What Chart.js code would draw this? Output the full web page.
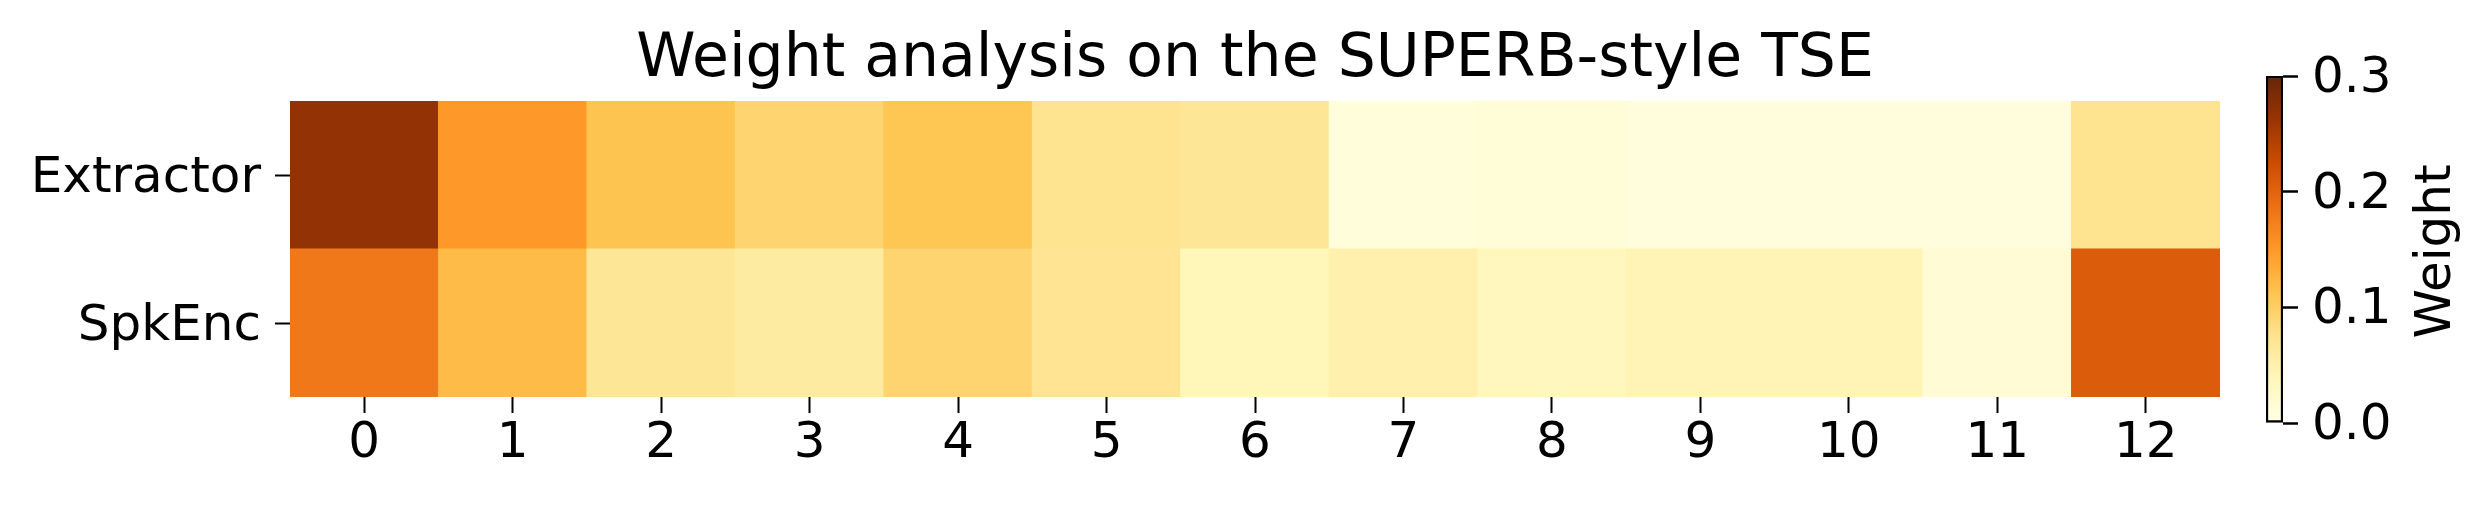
<!DOCTYPE html>
<html>
<head>
<meta charset="utf-8">
<script src="https://cdn.jsdelivr.net/npm/chart.js@4.4.1/dist/chart.umd.min.js"></script>
<style>
  html, body { margin: 0; padding: 0; background: #fff; }
  #wrap { position: relative; width: 2486px; height: 505px; }
  #heatBox { position: absolute; left: 0; top: 0; width: 2486px; height: 505px; }
  #barBox { position: absolute; left: 2266px; top: 0; width: 220px; height: 505px; }
</style>
</head>
<body>
<div id="wrap">
  <div id="heatBox"><canvas id="heatmap"></canvas></div>
  <div id="barBox"><canvas id="colorbar"></canvas></div>
</div>
<script>
// Data
const layers = ['0', '1', '2', '3', '4', '5', '6', '7', '8', '9', '10', '11', '12'];
const rows = ['SpkEnc', 'Extractor'];   // bottom to top
const extractorWeights = [0.267, 0.150, 0.112, 0.093, 0.110, 0.075, 0.070, 0.010, 0.012, 0.008, 0.008, 0.009, 0.075];
const spkEncWeights = [0.180, 0.120, 0.070, 0.060, 0.093, 0.073, 0.040, 0.050, 0.036, 0.044, 0.044, 0.015, 0.207];
const cbTicks = [0, 0.1, 0.2, 0.3];
const vmin = 0, vmax = 0.3;
const titleText = 'Weight analysis on the SUPERB-style TSE';
const cbLabel = 'Weight';

const FONT = 'DejaVu Sans';

// YlOrBr colormap stops
const ylOrBr = [
    [255, 255, 229], [255, 247, 188], [254, 227, 145], [254, 196, 79],
    [254, 153, 41], [236, 112, 20], [204, 76, 2], [153, 52, 4], [102, 37, 6]
];

function cmap(v) {
    let t = (v - vmin) / (vmax - vmin);
    t = Math.max(0, Math.min(1, t)) * (ylOrBr.length - 1);
    const i = Math.min(Math.floor(t), ylOrBr.length - 2);
    const f = t - i;
    const a = ylOrBr[i], b = ylOrBr[i + 1];
    const c = a.map((x, k) => Math.round(x + (b[k] - x) * f));
    return `rgb(${c[0]}, ${c[1]}, ${c[2]})`;
}

function rowDataset(weights, r) {
    return {
        data: layers.map(() => [r, r + 1]),
        backgroundColor: weights.map(cmap),
        borderWidth: 0,
        barPercentage: 1,
        categoryPercentage: 1,
        grouped: false,
        inflateAmount: 0.5
    };
}

Chart.defaults.font.family = FONT;
Chart.defaults.color = '#000';

// Title centred over the heatmap cells (not the whole canvas)
const centerTitle = {
    id: 'centerTitle',
    afterDraw(chart) {
        const { ctx, chartArea } = chart;
        ctx.save();
        ctx.font = `60px ${FONT}`;
        ctx.fillStyle = '#000';
        ctx.textAlign = 'center';
        ctx.textBaseline = 'alphabetic';
        ctx.fillText(titleText, (chartArea.left + chartArea.right) / 2, 76);
        ctx.restore();
    }
};

// Colorbar label, rotated to read bottom-to-top
const cbTitle = {
    id: 'cbTitle',
    afterDraw(chart) {
        const { ctx, chartArea } = chart;
        ctx.save();
        ctx.translate(2450 - 2266, (chartArea.top + chartArea.bottom) / 2 + 2);
        ctx.rotate(-Math.PI / 2);
        ctx.font = `50px ${FONT}`;
        ctx.fillStyle = '#000';
        ctx.textAlign = 'center';
        ctx.textBaseline = 'alphabetic';
        ctx.fillText(cbLabel, 0, 0);
        ctx.restore();
    }
};

// Heatmap
new Chart(document.getElementById('heatmap'), {
    type: 'bar',
    data: {
        labels: layers,
        datasets: [rowDataset(spkEncWeights, 0), rowDataset(extractorWeights, 1)]
    },
    plugins: [centerTitle],
    options: {
        responsive: true,
        maintainAspectRatio: false,
        animation: false,
        layout: { padding: { left: 0, right: 266, top: 101, bottom: 0 } },
        plugins: {
            legend: { display: false },
            tooltip: { enabled: false },
            title: { display: false }
        },
        scales: {
            x: {
                type: 'category',
                offset: true,
                border: { display: false },
                grid: {
                    offset: false,
                    drawOnChartArea: false,
                    drawTicks: true,
                    tickLength: 16,
                    tickWidth: 2,
                    tickColor: '#000'
                },
                ticks: { font: { size: 50 }, padding: 1, maxRotation: 0 },
                afterFit: (scale) => { scale.height = 108; }
            },
            y: {
                type: 'linear',
                min: 0,
                max: rows.length,
                border: { display: false },
                grid: {
                    drawOnChartArea: false,
                    drawTicks: true,
                    tickLength: 15,
                    tickWidth: 2,
                    tickColor: '#000'
                },
                afterBuildTicks: (scale) => {
                    scale.ticks = rows.map((_, i) => ({ value: i + 0.5 }));
                },
                ticks: {
                    font: { size: 50 },
                    padding: 14,
                    labelOffset: 4,
                    callback: (value) => rows[Math.floor(value)]
                },
                afterFit: (scale) => { scale.width = 290; }
            }
        }
    }
});

// Colorbar
new Chart(document.getElementById('colorbar'), {
    type: 'bar',
    data: {
        labels: [cbLabel],
        datasets: [{
            data: [vmax],
            barPercentage: 1,
            categoryPercentage: 1,
            borderColor: '#000',
            borderWidth: 2.5,
            borderSkipped: false,
            backgroundColor: (context) => {
                const area = context.chart.chartArea;
                if (!area) return cmap(vmax);
                const g = context.chart.ctx.createLinearGradient(0, area.bottom, 0, area.top);
                ylOrBr.forEach((c, i) => {
                    g.addColorStop(i / (ylOrBr.length - 1), `rgb(${c[0]}, ${c[1]}, ${c[2]})`);
                });
                return g;
            }
        }]
    },
    plugins: [cbTitle],
    options: {
        responsive: true,
        maintainAspectRatio: false,
        animation: false,
        layout: { padding: { left: 0, right: 0, top: 76, bottom: 82 } },
        plugins: {
            legend: { display: false },
            tooltip: { enabled: false }
        },
        scales: {
            x: { display: false },
            y: {
                position: 'right',
                min: vmin,
                max: vmax,
                border: { display: false },
                grid: {
                    drawOnChartArea: false,
                    drawTicks: true,
                    tickLength: 15,
                    tickWidth: 2.5,
                    tickColor: '#000'
                },
                afterBuildTicks: (scale) => {
                    scale.ticks = cbTicks.map(v => ({ value: v }));
                },
                ticks: {
                    font: { size: 50 },
                    padding: 14,
                    labelOffset: 3,
                    callback: (value) => value.toFixed(1)
                },
                afterFit: (scale) => { scale.width = 203; }
            }
        }
    }
});
</script>
</body>
</html>
